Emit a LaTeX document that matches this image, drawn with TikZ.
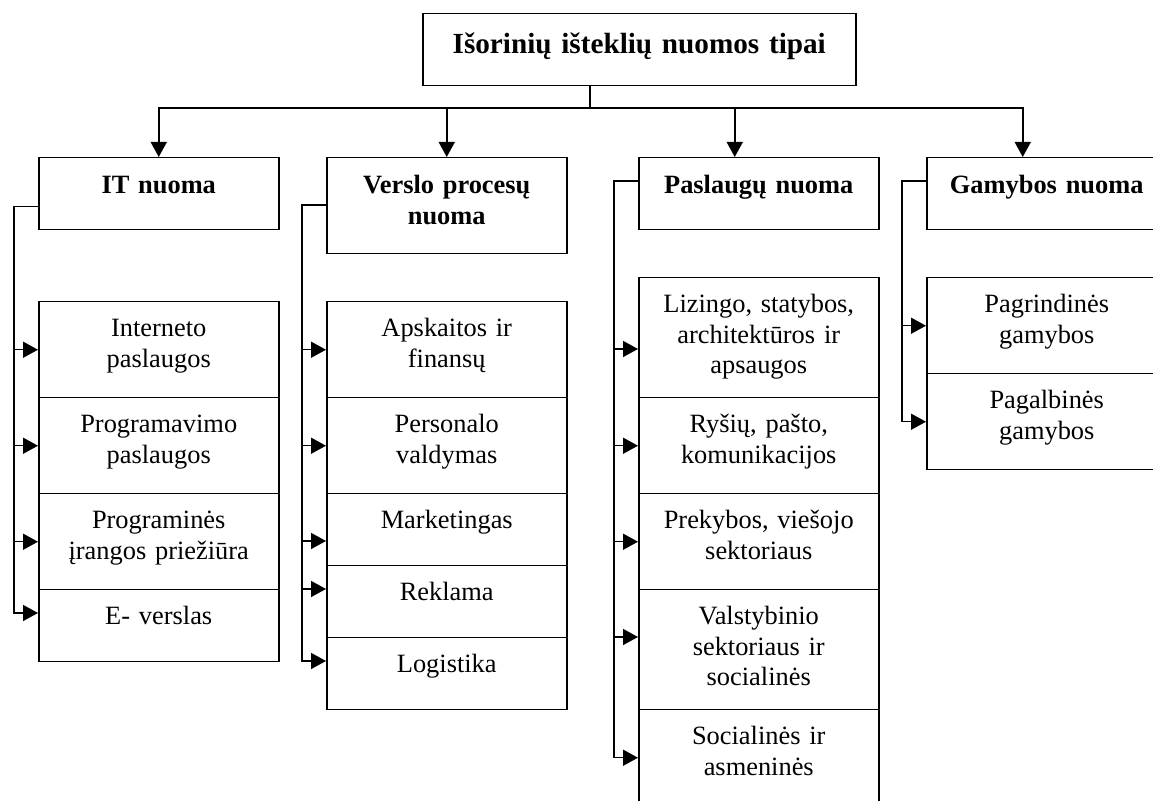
\documentclass[tikz,border=0pt]{standalone}
\usepackage{fontspec}
\setmainfont{Liberation Serif}
\usetikzlibrary{arrows.meta}

\begin{document}
\begin{tikzpicture}
        [x=0.5pt,y=-0.5pt,line width=0.75pt,
        every node/.style={draw,anchor=north west,inner sep=0pt,text width=120pt,align=center,font=\fontsize{13.2}{15.3}\selectfont},
        head/.style={font=\fontsize{13.2}{15.3}\selectfont\bfseries,text height=18pt,text depth=#1},
        leaf/.style={text height=17.5pt,text depth=#1},
        arr/.style={-{Triangle[length=7.5pt,width=8pt]}}]
        \clip (0,0) rectangle (1153,801);
        
        \node[head=16pt,text width=216.5pt,text height=20pt,font=\fontsize{14.6}{16.8}\selectfont\bfseries] (tipai) at (422,13) {Išorinių išteklių nuomos tipai};
        \coordinate (bus) at (590,108);
        
        \node[head=18pt] (it) at (38,157) {IT nuoma};
        \node[head=30pt] (vp) at (326,157) {Verslo procesų\\nuoma};
        \node[head=18pt] (pn) at (638,157) {Paslaugų nuoma};
        \node[head=18pt] (gn) at (926,157) {Gamybos nuoma};
        
        \node[leaf=30.5pt] (it1) at (38,301) {Interneto\\paslaugos};
        \node[leaf=30.5pt] (it2) at (38,397) {Programavimo\\paslaugos};
        \node[leaf=30.5pt] (it3) at (38,493) {Programinės\\įrangos priežiūra};
        \node[leaf=18.5pt] (it4) at (38,589) {E- verslas};
        
        \node[leaf=30.5pt] (vp1) at (326,301) {Apskaitos ir\\finansų};
        \node[leaf=30.5pt] (vp2) at (326,397) {Personalo\\valdymas};
        \node[leaf=18.5pt] (vp3) at (326,493) {Marketingas};
        \node[leaf=18.5pt] (vp4) at (326,565) {Reklama};
        \node[leaf=18.5pt] (vp5) at (326,637) {Logistika};
        
        \node[leaf=42.5pt] (pn1) at (638,277) {Lizingo, statybos,\\architektūros ir\\apsaugos};
        \node[leaf=30.5pt] (pn2) at (638,397) {Ryšių, pašto,\\komunikacijos};
        \node[leaf=30.5pt] (pn3) at (638,493) {Prekybos, viešojo\\sektoriaus};
        \node[leaf=42.5pt] (pn4) at (638,589) {Valstybinio\\sektoriaus ir\\socialinės};
        \node[leaf=30.5pt] (pn5) at (638,709) {Socialinės ir\\asmeninės};
        
        \node[leaf=30.5pt] (gn1) at (926,277) {Pagrindinės\\gamybos};
        \node[leaf=30.5pt] (gn2) at (926,373) {Pagalbinės\\gamybos};
        
        \draw (tipai.south -| bus) -- (bus);
        \draw [arr] (bus) -| (it.north);
        \draw [arr] (bus) -| (vp.north);
        \draw [arr] (bus) -| ([xshift=-12pt]pn.north);
        \draw [arr] (bus) -| ([xshift=-12pt]gn.north);
        
        \draw [arr] ([yshift=12pt]it.south west) -- ++(-24,0) |- ([yshift=-12pt]it4.north west);
        \draw [arr] ([xshift=-12pt]it1.west) -- (it1.west);
        \draw [arr] ([xshift=-12pt]it2.west) -- (it2.west);
        \draw [arr] ([xshift=-12pt]it3.west) -- (it3.west);
        
        \draw [arr] ([yshift=-24pt]vp.north west) -- ++(-24,0) |- ([yshift=-12pt]vp5.north west);
        \draw [arr] ([xshift=-12pt]vp1.west) -- (vp1.west);
        \draw [arr] ([xshift=-12pt]vp2.west) -- (vp2.west);
        \draw [arr] ([xshift=-12pt,yshift=-24pt]vp3.north west) -- ([yshift=-24pt]vp3.north west);
        \draw [arr] ([xshift=-12pt,yshift=-12pt]vp4.north west) -- ([yshift=-12pt]vp4.north west);
        
        \draw [arr] ([yshift=-12pt]pn.north west) -- ++(-24,0) |- (pn5.west);
        \draw [arr] ([xshift=-12pt,yshift=-36pt]pn1.north west) -- ([yshift=-36pt]pn1.north west);
        \draw [arr] ([xshift=-12pt]pn2.west) -- (pn2.west);
        \draw [arr] ([xshift=-12pt]pn3.west) -- (pn3.west);
        \draw [arr] ([xshift=-12pt,yshift=-24pt]pn4.north west) -- ([yshift=-24pt]pn4.north west);
        
        \draw [arr] ([yshift=-12pt]gn.north west) -- ++(-24,0) |- (gn2.west);
        \draw [arr] ([xshift=-12pt]gn1.west) -- (gn1.west);
    
    \end{tikzpicture}
\end{document}
